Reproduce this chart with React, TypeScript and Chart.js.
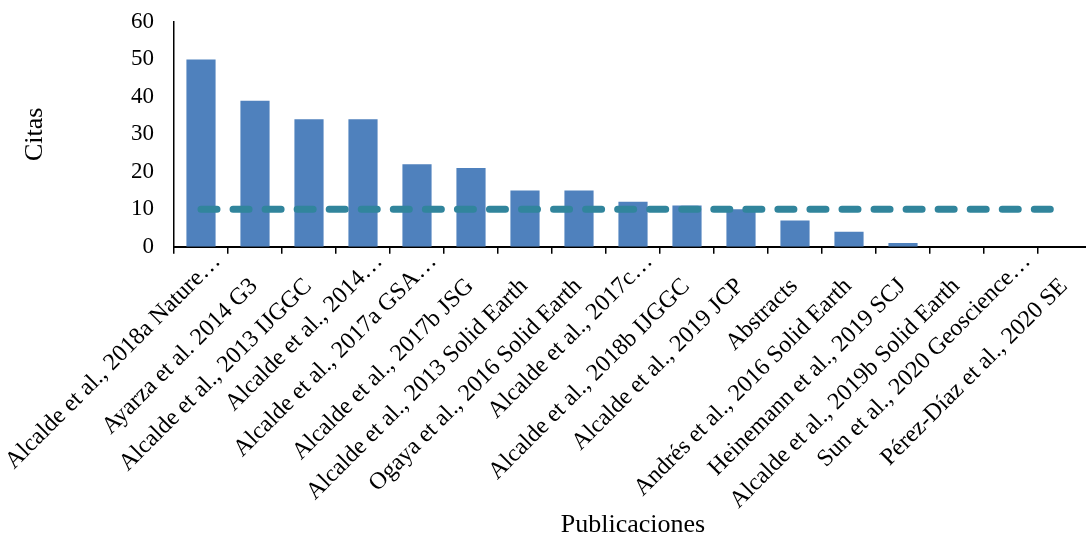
import React, { useEffect, useRef } from "react";
import { Chart, registerables } from "chart.js";

Chart.register(...registerables);

const categories: string[] = [
  "Alcalde et al., 2018a Nature…",
  "Ayarza et al. 2014 G3",
  "Alcalde et al., 2013 IJGGC",
  "Alcalde et al., 2014…",
  "Alcalde et al., 2017a GSA…",
  "Alcalde et al., 2017b JSG",
  "Alcalde et al., 2013 Solid Earth",
  "Ogaya et al., 2016 Solid Earth",
  "Alcalde et al., 2017c…",
  "Alcalde et al., 2018b IJGGC",
  "Alcalde et al., 2019 JCP",
  "Abstracts",
  "Andrés et al., 2016 Solid Earth",
  "Heinemann et al., 2019 SCJ",
  "Alcalde et al., 2019b Solid Earth",
  "Sun et al., 2020 Geoscience…",
  "Pérez-Díaz et al., 2020 SE",
];

const citas: number[] = [50, 39, 34, 34, 22, 21, 15, 15, 12, 11, 10, 7, 4, 1, 0, 0, 0];
const referencia: number[] = [10, 10, 10, 10, 10, 10, 10, 10, 10, 10, 10, 10, 10, 10, 10, 10, 10];

const yTitle = "Citas";
const xTitle = "Publicaciones";
const yMin = 0;
const yMax = 60;
const yStep = 10;

const FONT = "'Liberation Serif', 'Times New Roman', serif";

const isTruncated = (i: number) => categories[i].endsWith("…");

export default function App() {
  const ref = useRef<HTMLCanvasElement | null>(null);

  useEffect(() => {
    if (!ref.current) return;
    const chart = new Chart(ref.current, {
      type: "bar",
      data: {
        labels: categories,
        datasets: [
          {
            type: "line",
            label: "Referencia",
            data: referencia,
            borderColor: "#31859C",
            backgroundColor: "#31859C",
            borderWidth: 7,
            borderDash: [16, 16.05],
            borderCapStyle: "round",
            pointRadius: 0,
            tension: 0,
            fill: false,
            order: 0,
          } as any,
          {
            type: "bar",
            label: "Citas",
            data: citas,
            backgroundColor: "#4F81BD",
            borderWidth: 0,
            barPercentage: 0.54,
            categoryPercentage: 1,
            order: 1,
          },
        ],
      },
      options: {
        responsive: false,
        animation: false,
        devicePixelRatio: 1,
        layout: { padding: { left: 20, right: 8, top: 22, bottom: 0 } },
        plugins: {
          legend: { display: false },
          tooltip: { enabled: false },
        },
        scales: {
          x: {
            offset: true,
            grid: {
              offset: true,
              drawOnChartArea: false,
              drawTicks: true,
              tickLength: 7,
              color: "#000",
              lineWidth: 1.5,
            },
            border: { display: true, color: "#000", width: 2 },
            ticks: {
              autoSkip: false,
              minRotation: 45,
              maxRotation: 45,
              padding: -6,
              labelOffset: 16,
              color: "#000",
              callback: (_v: any, i: number) => categories[i] + (isTruncated(i) ? "" : "    "),
              font: (ctx: any) => ({
                family: FONT,
                size: 24,
                lineHeight: isTruncated(ctx.index) ? 1.2 : 2.117,
              }),
            } as any,
            title: {
              display: true,
              text: xTitle,
              color: "#000",
              font: { family: FONT, size: 26 },
              padding: { top: 0, bottom: -3 },
            },
            afterFit: (scale: any) => {
              scale.height = 538 - 246.7;
              scale.paddingLeft = 0;
              scale.paddingRight = 0;
            },
          },
          y: {
            min: yMin,
            max: yMax,
            grid: { display: false, drawTicks: false },
            border: { display: true, color: "#000", width: 1.5 },
            ticks: {
              stepSize: yStep,
              padding: 20,
              color: "#000",
              font: { family: FONT, size: 23 },
            },
            title: {
              display: true,
              text: yTitle,
              color: "#000",
              font: { family: FONT, size: 26 },
              padding: { top: 0, bottom: 0 },
            },
            afterFit: (scale: any) => {
              scale.width = 174 - 20;
              scale.paddingTop = 0;
              scale.paddingBottom = 0;
            },
          },
        },
      },
    });
    return () => chart.destroy();
  }, []);

  return (
    <div style={{ position: "absolute", left: 0, top: 0, width: 1086, height: 538, background: "#fff", overflow: "hidden" }}>
      <canvas ref={ref} width={1100} height={538} style={{ display: "block" }} />
    </div>
  );
}
